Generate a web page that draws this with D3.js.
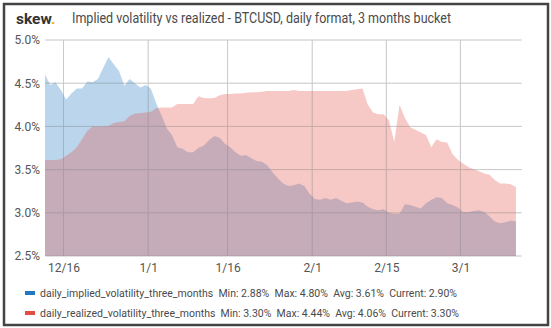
<!DOCTYPE html>
<html>
<head>
<meta charset="utf-8">
<script src="https://cdn.jsdelivr.net/npm/d3@7"></script>
<style>
  body { margin: 0; background: #fff; }
  svg { display: block; font-family: Roboto, "Noto Sans", sans-serif; }
</style>
</head>
<body>
<svg id="chart" width="551" height="328"></svg>
<script>
// first sample (values are one per day from here)
var firstDay = new Date(2018, 11, 12, 12);
var domainEnd = new Date(2019, 2, 12, 14);

var implied = [
  4.60, 4.48, 4.51, 4.42, 4.31, 4.38, 4.44, 4.44, 4.52, 4.51,
  4.55, 4.68, 4.80, 4.72, 4.64, 4.47, 4.55, 4.50, 4.45, 4.48,
  4.44, 4.27, 4.13, 3.98, 3.90, 3.76, 3.74, 3.70, 3.70, 3.75,
  3.78, 3.84, 3.89, 3.87, 3.80, 3.76, 3.70, 3.66, 3.67, 3.63,
  3.60, 3.59, 3.55, 3.47, 3.40, 3.34, 3.31, 3.32, 3.34, 3.31,
  3.22, 3.16, 3.15, 3.17, 3.15, 3.17, 3.14, 3.11, 3.12, 3.13,
  3.12, 3.07, 3.04, 3.03, 3.04, 3.00, 2.99, 2.99, 3.10, 3.09,
  3.07, 3.05, 3.11, 3.15, 3.18, 3.17, 3.11, 3.09, 3.06, 3.01,
  3.01, 3.02, 3.03, 3.01, 2.96, 2.90, 2.88, 2.89, 2.91, 2.90
];

var realized = [
  3.61, 3.61, 3.61, 3.62, 3.66, 3.70, 3.76, 3.85, 3.95, 4.00,
  4.00, 4.00, 4.005, 4.04, 4.05, 4.06, 4.12, 4.15, 4.155, 4.16,
  4.17, 4.21, 4.22, 4.22, 4.22, 4.26, 4.26, 4.26, 4.26, 4.35,
  4.33, 4.325, 4.33, 4.36, 4.375, 4.375, 4.38, 4.38, 4.39, 4.395,
  4.395, 4.40, 4.41, 4.41, 4.41, 4.41, 4.41, 4.42, 4.41, 4.41,
  4.41, 4.41, 4.41, 4.41, 4.41, 4.41, 4.41, 4.41, 4.42, 4.43,
  4.44, 4.25, 4.16, 4.14, 4.14, 4.07, 3.82, 4.25, 4.10, 3.99,
  3.96, 3.93, 3.90, 3.76, 3.85, 3.82, 3.815, 3.68, 3.615, 3.57,
  3.53, 3.505, 3.48, 3.455, 3.44, 3.38, 3.34, 3.34, 3.33, 3.30
];

var seriesNames = ["daily_implied_volatility_three_months", "daily_realized_volatility_three_months"];
var seriesColors = ["#1F78C1", "#E24D42"];
var legendStats = [
  "Min: 2.88%  Max: 4.80%  Avg: 3.61%  Current: 2.90%",
  "Min: 3.30%  Max: 4.44%  Avg: 4.06%  Current: 3.30%"
];
var yTicks = [2.5, 3.0, 3.5, 4.0, 4.5, 5.0];
var xTicks = [new Date(2018, 11, 16), new Date(2019, 0, 1), new Date(2019, 0, 16),
              new Date(2019, 1, 1), new Date(2019, 1, 15), new Date(2019, 2, 1)];

var svg = d3.select("#chart");
var margin = {left: 45, right: 29.3, top: 40, bottom: 72};
var W = 551, H = 328;

// panel frame
svg.append("rect")
  .attr("x", 4).attr("y", 4)
  .attr("width", 544).attr("height", 321)
  .attr("fill", "#fff")
  .attr("stroke", "#444")
  .attr("stroke-width", 2.5);

// header
var logo = svg.append("text")
  .attr("x", 16).attr("y", 24)
  .attr("font-size", 15.5).attr("font-weight", 700)
  .attr("fill", "#333");
logo.append("tspan").text("skew");
logo.append("tspan").attr("fill", "#F5A623").text(".");

svg.append("text")
  .attr("x", 72).attr("y", 23)
  .attr("font-size", 14)
  .attr("fill", "#4a4a4a")
  .attr("textLength", 379)
  .attr("lengthAdjust", "spacingAndGlyphs")
  .text("Implied volatility vs realized - BTCUSD, daily format, 3 months bucket");

var x = d3.scaleTime()
  .domain([firstDay, domainEnd])
  .range([margin.left, W - margin.right]);

var y = d3.scaleLinear()
  .domain([2.5, 5.0])
  .range([H - margin.bottom, margin.top]);

var dates = implied.map(function (d, i) { return d3.timeDay.offset(firstDay, i); });

// grid
var grid = svg.append("g");
grid.selectAll("line.h").data(yTicks).enter().append("line")
  .attr("x1", margin.left).attr("x2", W - margin.right)
  .attr("y1", function (d) { return y(d); })
  .attr("y2", function (d) { return y(d); })
  .attr("stroke", "#e4e4e4").attr("stroke-width", 1);
grid.selectAll("line.v").data(xTicks).enter().append("line")
  .attr("x1", function (d) { return x(d); })
  .attr("x2", function (d) { return x(d); })
  .attr("y1", margin.top).attr("y2", H - margin.bottom)
  .attr("stroke", "#e4e4e4").attr("stroke-width", 1);

// areas
function area(values) {
  return d3.area()
    .x(function (d, i) { return x(dates[i]); })
    .y0(y(2.5))
    .y1(function (d) { return y(d); })(values);
}

svg.append("path")
  .attr("d", area(implied))
  .attr("fill", seriesColors[0])
  .attr("fill-opacity", 0.3);

svg.append("path")
  .attr("d", area(realized))
  .attr("fill", seriesColors[1])
  .attr("fill-opacity", 0.3);

// grid lines show through the fill
var gridTop = svg.append("g").attr("opacity", 0.35);
gridTop.selectAll("line").data(xTicks).enter().append("line")
  .attr("x1", function (d) { return x(d); })
  .attr("x2", function (d) { return x(d); })
  .attr("y1", margin.top).attr("y2", H - margin.bottom)
  .attr("stroke", "#999");
gridTop.selectAll("line.h").data(yTicks).enter().append("line")
  .attr("x1", margin.left).attr("x2", W - margin.right)
  .attr("y1", function (d) { return y(d); })
  .attr("y2", function (d) { return y(d); })
  .attr("stroke", "#999");

// axes
var yAxis = svg.append("g")
  .attr("transform", "translate(" + margin.left + ",0)")
  .call(d3.axisLeft(y).tickValues(yTicks).tickSize(0).tickPadding(5)
    .tickFormat(function (d) { return d.toFixed(1) + "%"; }));
yAxis.select(".domain").remove();
yAxis.selectAll("text").attr("font-size", 12).attr("fill", "#555")
  .attr("font-family", "Roboto, sans-serif");

var xAxis = svg.append("g")
  .attr("transform", "translate(0," + (H - margin.bottom) + ")")
  .call(d3.axisBottom(x).tickValues(xTicks).tickSize(0).tickPadding(7)
    .tickFormat(d3.timeFormat("%-m/%-d")));
xAxis.select(".domain").remove();
xAxis.selectAll("text").attr("font-size", 12).attr("fill", "#555")
  .attr("font-family", "Roboto, sans-serif");

// legend
var legendWidths = [417, 419];
var legend = svg.append("g");
seriesNames.forEach(function (name, i) {
  var ly = 293 + i * 20;
  legend.append("rect")
    .attr("x", 25).attr("y", ly - 2)
    .attr("width", 10).attr("height", 4)
    .attr("fill", seriesColors[i]);
  legend.append("text")
    .attr("x", 40).attr("y", ly + 4)
    .attr("font-size", 11.6).attr("fill", "#4a4a4a")
    .attr("xml:space", "preserve")
    .attr("textLength", legendWidths[i])
    .attr("lengthAdjust", "spacingAndGlyphs")
    .text(name + "  " + legendStats[i]);
});
</script>
</body>
</html>
